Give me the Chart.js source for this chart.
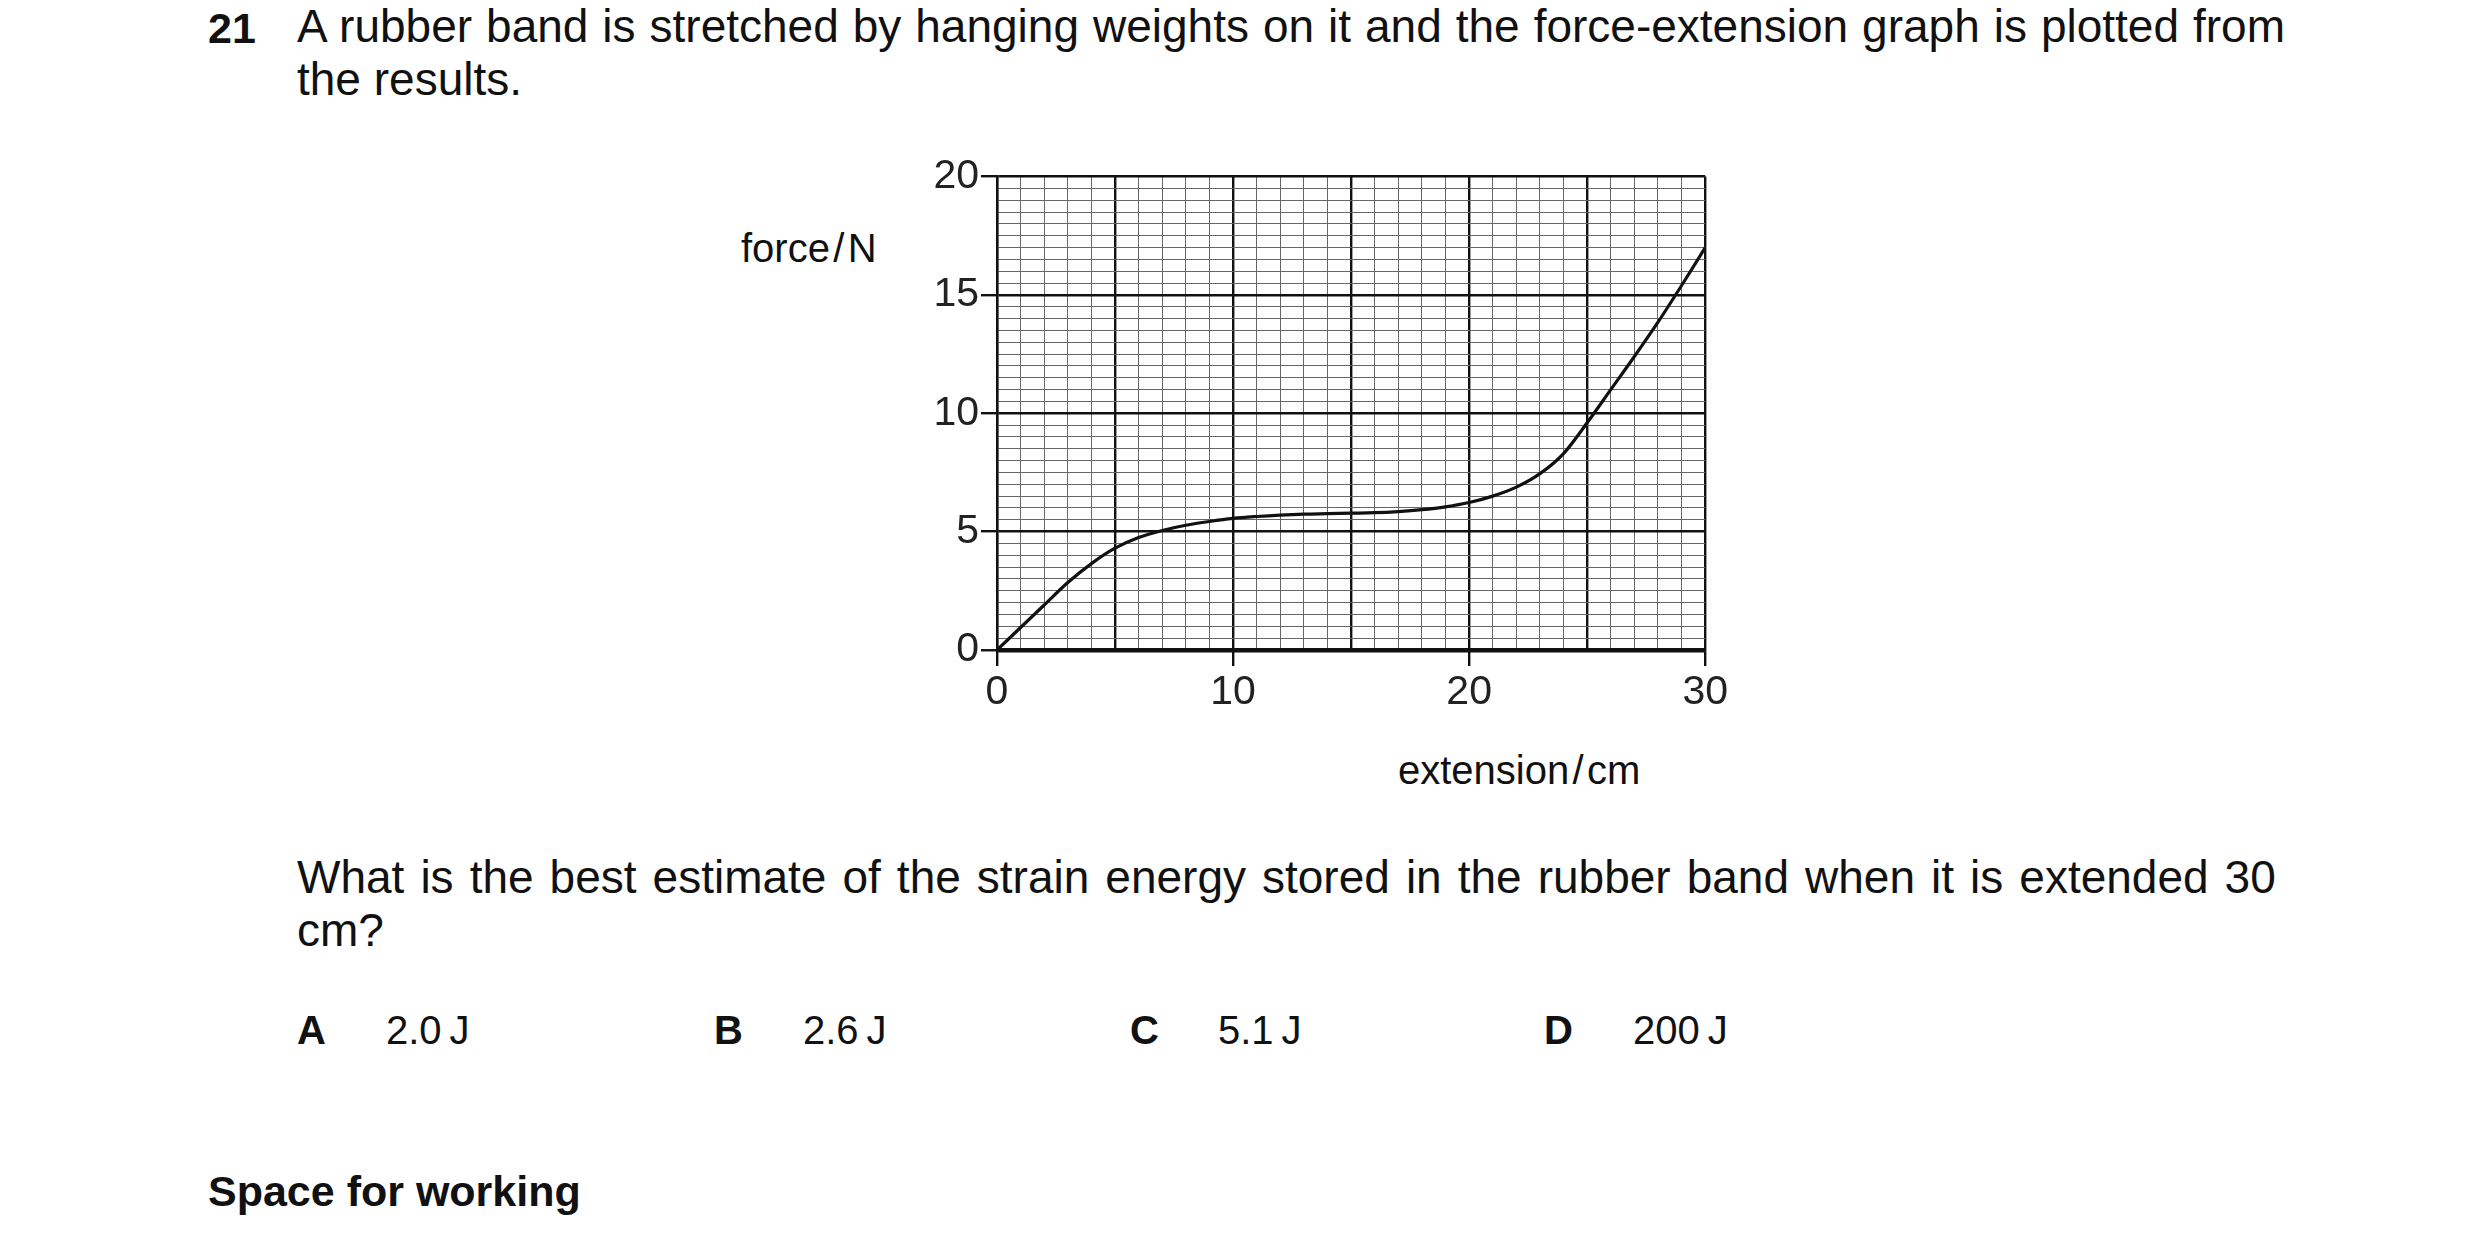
<!DOCTYPE html>
<html><head><meta charset="utf-8">
<script src="https://cdn.jsdelivr.net/npm/chart.js@4"></script>
<style>
html,body{margin:0;padding:0;background:#fff;width:2480px;height:1248px;overflow:hidden;font-family:"Liberation Sans",Arial,sans-serif;color:#111}
.t{position:absolute;font-size:40px;line-height:52px;white-space:nowrap}
.j{position:absolute;left:297px;width:1988px;font-size:46px;line-height:53px;text-align:justify;text-align-last:left}
b{font-weight:bold}
canvas{position:absolute;left:700px;top:150px}
</style></head><body>
<div class="t" style="left:208px;top:2px;font-size:43px"><b>21</b></div>
<div class="j" style="top:0px">A rubber band is stretched by hanging weights on it and the force-extension graph is plotted from the results.</div>
<div class="j" style="top:851px">What is the best estimate of the strain energy stored in the rubber band when it is extended 30&#8201;cm?</div>
<div class="t" style="left:297px;top:1004px"><b>A</b></div><div class="t" style="left:386px;top:1004px">2.0&#8201;J</div>
<div class="t" style="left:714px;top:1004px"><b>B</b></div><div class="t" style="left:803px;top:1004px">2.6&#8201;J</div>
<div class="t" style="left:1130px;top:1004px"><b>C</b></div><div class="t" style="left:1218px;top:1004px">5.1&#8201;J</div>
<div class="t" style="left:1544px;top:1004px"><b>D</b></div><div class="t" style="left:1633px;top:1004px">200&#8201;J</div>
<div class="t" style="left:208px;top:1165px;font-size:43px"><b>Space for working</b></div>
<div class="t" style="left:741px;top:222px">force&#8202;/&#8202;N</div>
<div class="t" style="left:1398px;top:744px">extension&#8202;/&#8202;cm</div>
<canvas id="c" width="1030" height="560"></canvas>
<script>
const extension = [0,1,2,3,4,5,6,7,8,9,10,11,12,13,14,15,16,17,18,19,20,21,22,23,24,25,26,27,28,29,30];
const force     = [0,0.95,1.9,2.85,3.65,4.3,4.75,5.05,5.27,5.43,5.56,5.64,5.7,5.74,5.76,5.78,5.8,5.85,5.93,6.05,6.23,6.5,6.88,7.45,8.3,9.6,11.0,12.4,13.85,15.4,17.0];
const xTickLabels = [0,10,20,30];
const yTickLabels = [0,5,10,15,20];
const pts = extension.map((x,i)=>({x, y: force[i]}));
const isMul = (v,m)=>Math.abs(v/m-Math.round(v/m))<1e-6;
const tc = (list)=>(c)=>{const v=c.tick?c.tick.value:0; return list.some(t=>Math.abs(t-v)<1e-6) ? '#111' : 'rgba(0,0,0,0)';};
new Chart(document.getElementById('c'),{
  type:'scatter',
  data:{datasets:[{data:pts, showLine:true, borderColor:'#111', borderWidth:3.2, pointRadius:0, cubicInterpolationMode:'monotone', fill:false}]},
  options:{
    responsive:false, animation:false, devicePixelRatio:1,
    layout:{padding:{top:25,right:20,left:0,bottom:0}},
    plugins:{legend:{display:false},tooltip:{enabled:false}},
    scales:{
      x:{type:'linear',min:0,max:30,
        afterFit:(s)=>{s.height=60;},
        afterBuildTicks:(s)=>{s.ticks=extension.map(v=>({value:v}));},
        border:{display:true,color:'#111',width:2.4},
        grid:{lineWidth:(c)=>{const v=c.tick?c.tick.value:0; return isMul(v,5)?2.4:1;},
              color:(c)=>{const v=c.tick?c.tick.value:0; return isMul(v,5)?'#111':'#666';},
              tickLength:16,tickColor:tc(xTickLabels),tickWidth:2.4},
        ticks:{autoSkip:false,maxRotation:0,color:'#222',font:{family:'Liberation Sans',size:41},padding:2,
          callback:(v)=>xTickLabels.includes(v)?String(v):''}},
      y:{type:'linear',min:0,max:20,
        afterFit:(s)=>{s.width=297;},
        border:{display:true,color:'#111',width:2.4},
        grid:{lineWidth:(c)=>{const v=c.tick?c.tick.value:0; return v===0?4.5:(isMul(v,5)?2.4:1);},
              color:(c)=>{const v=c.tick?c.tick.value:0; return isMul(v,5)?'#111':'#666';},
              tickLength:16,tickColor:tc(yTickLabels),tickWidth:2.4},
        ticks:{stepSize:0.5,autoSkip:false,color:'#222',font:{family:'Liberation Sans',size:41},padding:2,
          callback:(v)=>yTickLabels.includes(v)?String(v):''}}
    }
  }
});
</script>
</body></html>
